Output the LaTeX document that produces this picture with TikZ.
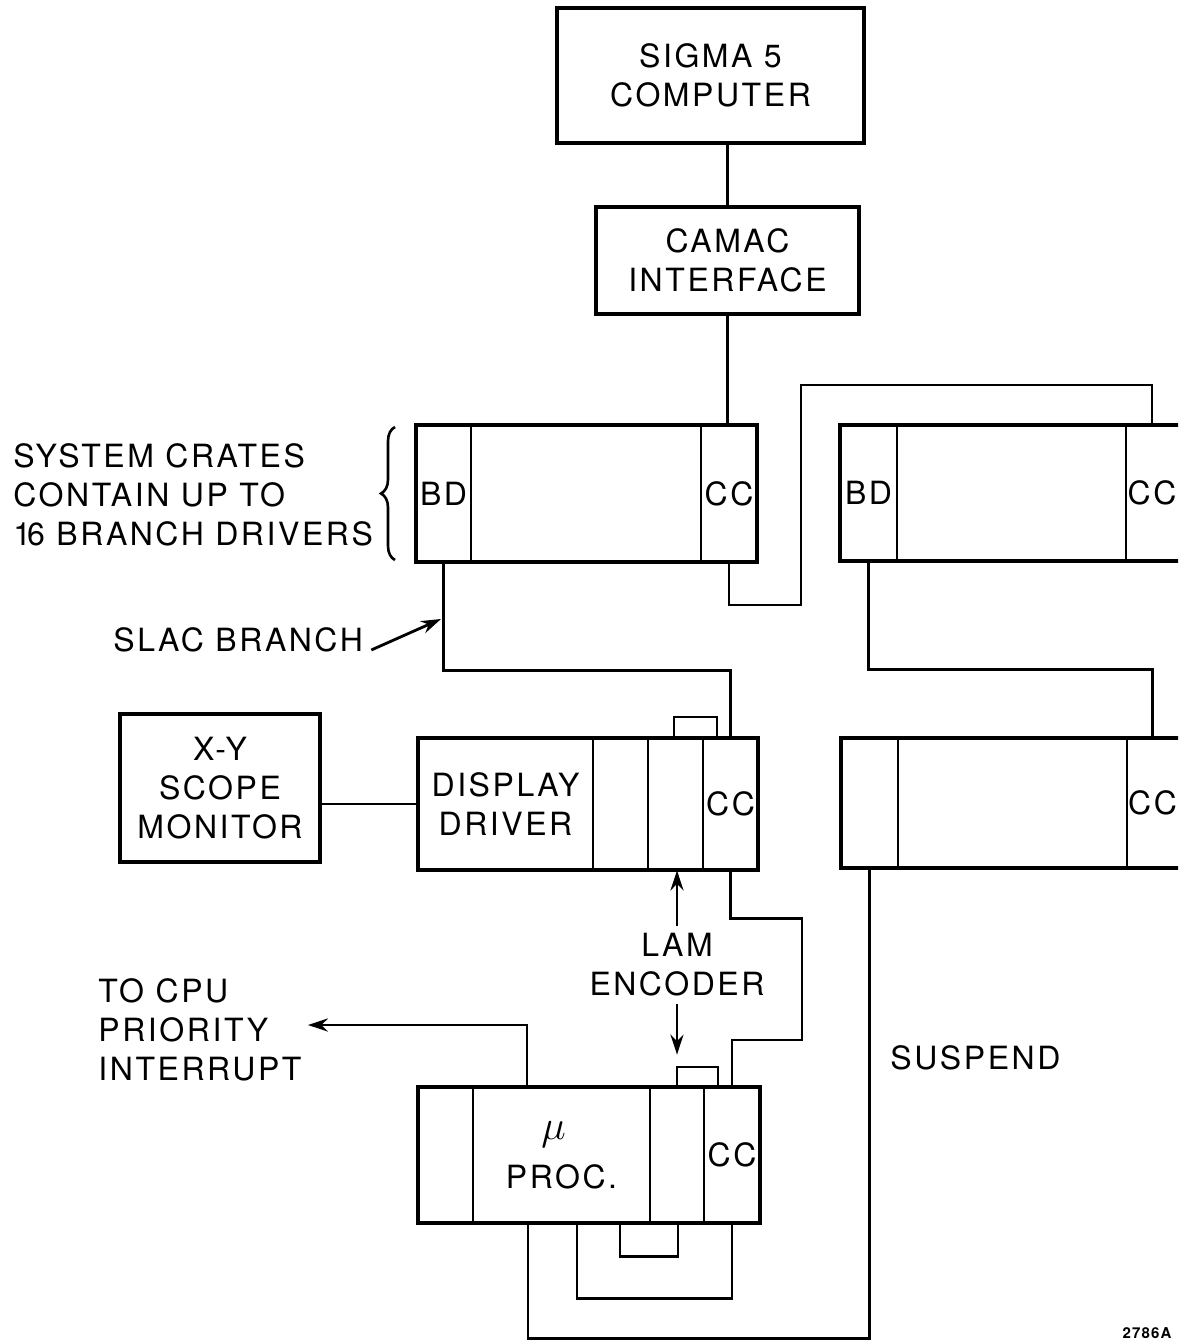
\documentclass[tikz,border=0pt]{standalone}
\usepackage{fontspec}
\setmainfont[LetterSpace=8]{TeX Gyre Heros}
\usetikzlibrary{calc,decorations.pathreplacing,arrows.meta}
\begin{document}
\begin{tikzpicture}[x=0.5pt,y=-0.5pt,
  every node/.style={font=\fontsize{16}{19.5}\selectfont},
  wh/.style n args={2}{minimum width=#1*0.5pt, minimum height=#2*0.5pt},
  box/.style={draw, inner sep=0pt, line width=1.6pt, align=center},
  sec/.style={inner sep=0pt, align=center},
  divider/.style={line width=1.4pt},
  wire/.style={line width=1.4pt},
  arr/.style={wire, -{Stealth[length=10pt,width=6.5pt]}}]
\useasboundingbox (0,0) rectangle (1178,1342);
\clip (0,0) rectangle (1178,1342);

% top boxes
\node[box, wh={307}{135}] (sigma) at (710.5,75.5) {SIGMA 5\\COMPUTER};
\node[box, wh={263}{107}] (camac) at (727.5,260.5) {CAMAC\\INTERFACE};
\node[box, wh={200}{148}] (xy) at (220,788) {X-Y\\SCOPE\\MONITOR};

% system crate 1 (x 416-757, y 425-562)
\node[box, wh={341}{137}] (crate1) at (586.5,493.5) {};
\draw[divider] (471,425) -- (471,562);
\draw[divider] (701,425) -- (701,562);
\node[sec, wh={55}{137}] (bd1) at (443.5,493.5) {BD};
\node[sec, wh={230}{137}] (m1) at (586,493.5) {};
\node[sec, wh={56}{137}] (cc1) at (729,493.5) {CC};

% system crate 2 (x 840-1200, y 425-561)
\node[box, wh={360}{136}] (crate2) at (1020,493) {};
\draw[divider] (897,425) -- (897,561);
\draw[divider] (1126,425) -- (1126,561);
\node[sec, wh={57}{136}] (bd2) at (868.5,493) {BD};
\node[sec, wh={229}{136}] (m2) at (1011.5,493) {};
\node[sec, wh={52}{136}] (cc2) at (1152,493) {CC};

% display crate (x 418-758, y 738-870)
\node[box, wh={340}{132}] (dcrate) at (588,804) {};
\draw[divider] (593,738) -- (593,870);
\draw[divider] (648,738) -- (648,870);
\draw[divider] (703,738) -- (703,870);
\node[sec, wh={175}{132}] (dd) at (505.5,804) {DISPLAY\\DRIVER};
\node[sec, wh={55}{132}] (ds) at (620.5,804) {};
\node[sec, wh={55}{132}] (lam1) at (675.5,804) {};
\node[sec, wh={55}{132}] (dcc) at (730.5,804) {CC};
\draw[wire] (674,738) |- (717,717) -- (717,738);

% right lower crate (x 841-1200, y 738-868)
\node[box, wh={359}{130}] (rcrate) at (1020.5,803) {};
\draw[divider] (898,738) -- (898,868);
\draw[divider] (1127,738) -- (1127,868);
\node[sec, wh={57}{130}] (rs) at (869.5,803) {};
\node[sec, wh={229}{130}] (rm) at (1012.5,803) {};
\node[sec, wh={51}{130}] (rcc) at (1152.5,803) {CC};

% processor crate (x 418-760, y 1087-1223)
\node[box, wh={342}{136}] (pcrate) at (589,1155) {};
\draw[divider] (473,1087) -- (473,1223);
\draw[divider] (650,1087) -- (650,1223);
\draw[divider] (704,1087) -- (704,1223);
\node[sec, wh={55}{136}] (ps) at (445.5,1155) {};
\node[sec, wh={177}{136}] (pm) at (561.5,1155) {\hspace*{-8pt}{\fontsize{22}{22}\selectfont$\mu$}\\[5pt]PROC.};
\node[sec, wh={54}{136}] (lam2) at (677,1155) {};
\node[sec, wh={56}{136}] (pcc) at (732,1155) {CC};
\draw[wire] (677,1087) |- (718,1067) -- (718,1087);

% labels
\node[anchor=west, align=left, inner sep=0pt] (systxt) at (13,495) {SYSTEM CRATES\\CONTAIN UP TO\\1\kern-2pt6 BRANCH DRIVERS};
\draw[decorate, decoration={brace, amplitude=7pt}, line width=1.3pt] (395,560) -- (395,427);
\node[anchor=west, inner sep=0pt] (slac) at (113,640) {SLAC BRANCH};
\coordinate (slacpt) at (441,619);
\node[anchor=west, align=left, inner sep=0pt] (cputxt) at (98,1030) {TO CPU\\PRIORITY\\INTERRUPT};
\node[align=center] (lamtxt) at (677,965) {LAM\\ENCODER};
\node[anchor=west, inner sep=0pt] (susp) at (890,1058) {SUSPEND};
\node[font=\bfseries\fontsize{7.5}{8}\selectfont] (code) at (1147,1333) {2786A};

% connectors
\draw[wire] (camac.north) -- (camac.north |- sigma.south);
\draw[wire] (camac.south) -- (camac.south |- crate1.north);
\draw[wire] (cc1.south) |- (801,605) -- (801,385) -| (cc2.north);
\draw[wire] (bd1.south) -- ++(0,108) -| (dcc.north);
\draw[wire] (bd2.south) -- ++(0,108) -| (rcc.north);
\draw[wire] (dcc.south) -- ++(0,48) -| (802,1040) -| (pcc.north);
\draw[wire] (dd.west) -- (dd.west -| xy.east);
\draw[arr] ($(slac.east)+(8,10)$) -- (slacpt);
\draw[arr] ($(pm.north)+(-34.5,0)$) |- ($(cputxt.east)+(6,-5)$);
\draw[arr] (lamtxt.north) -- (lamtxt.north |- lam1.south);
\draw[arr, shorten >=16pt] (lamtxt.south) -- (lamtxt.south |- lam2.north);
\draw[wire] ($(pcrate.south)+(31,0)$) -- ++(0,32) -| ($(pcrate.south)+(89,0)$);
\draw[wire] ($(pcrate.south)+(-12,0)$) -- ++(0,74) -| ($(pcrate.south)+(143,0)$);
\draw[wire] ($(pcrate.south)+(-61,0)$) -- ++(0,114) -| (rs.south);
\end{tikzpicture}
\end{document}
